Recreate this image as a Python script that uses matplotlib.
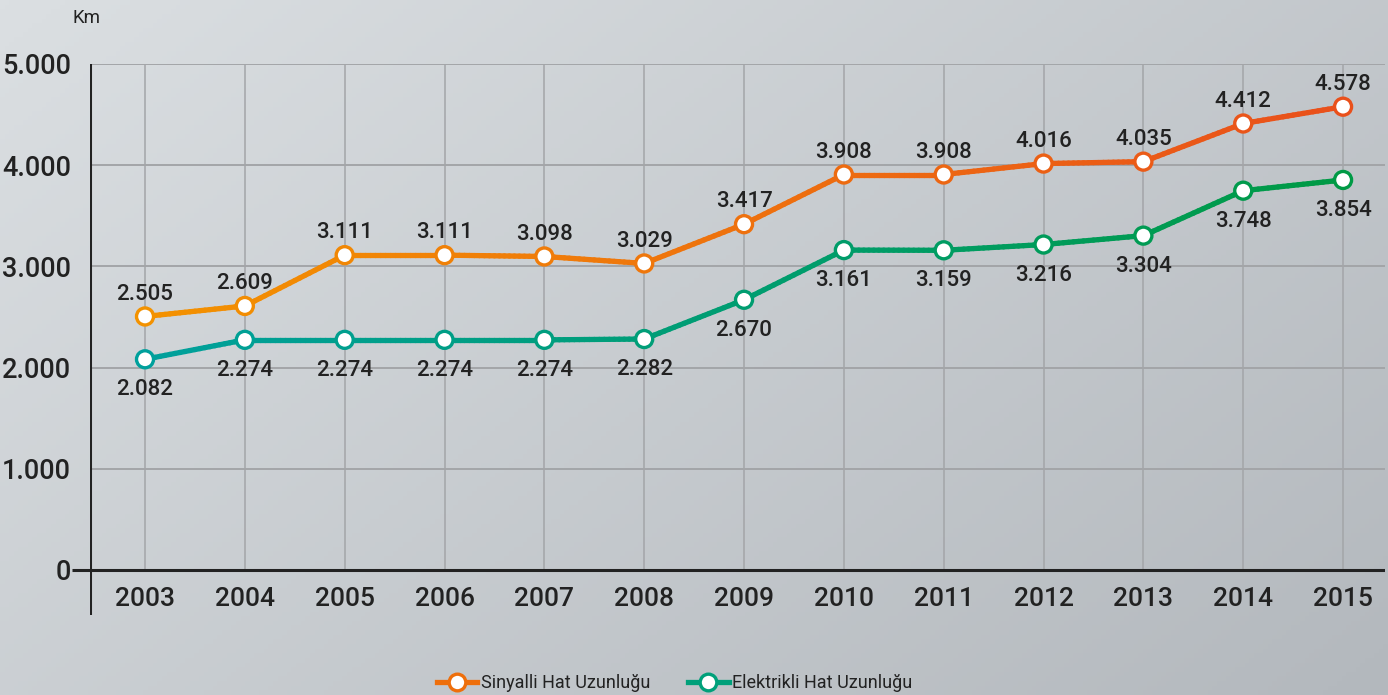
import numpy as np
import matplotlib
matplotlib.use("Agg")
import matplotlib.pyplot as plt
from matplotlib.collections import LineCollection
from matplotlib.colors import LinearSegmentedColormap
from matplotlib.lines import Line2D

# --- data --------------------------------------------------------------------
years = [2003, 2004, 2005, 2006, 2007, 2008, 2009, 2010, 2011, 2012, 2013, 2014, 2015]
sinyalli = [2505, 2609, 3111, 3111, 3098, 3029, 3417, 3908, 3908, 4016, 4035, 4412, 4578]
elektrikli = [2082, 2274, 2274, 2274, 2274, 2282, 2670, 3161, 3159, 3216, 3304, 3748, 3854]
yticks = [0, 1000, 2000, 3000, 4000, 5000]
series_names = ["Sinyalli Hat Uzunluğu", "Elektrikli Hat Uzunluğu"]
# -----------------------------------------------------------------------------

plt.rcParams["font.family"] = ["Roboto", "DejaVu Sans"]
plt.rcParams["font.weight"] = "medium"
TXT = "#222222"
GRID = "#a3a5a8"

fig = plt.figure(figsize=(13.88, 6.95), dpi=100)

# gradient background
bg = fig.add_axes([0, 0, 1, 1], zorder=-10)
gx, gy = np.meshgrid(np.linspace(0, 1, 300), np.linspace(0, 1, 150))
t = 0.6 * gx + 0.4 * gy
bg_cmap = LinearSegmentedColormap.from_list("bg", ["#dbdfe2", "#b3b8bd"])
bg.imshow(t, cmap=bg_cmap, aspect="auto", extent=[0, 1, 1, 0])
bg.set_axis_off()

ax = fig.add_axes([90 / 1388, 1 - 615 / 695, (1385 - 90) / 1388, (615 - 64) / 695])
ax.patch.set_alpha(0)
ax.set_xlim(2002.449, 2015.42)
ax.set_ylim(-445, 5000)

# grid
ax.hlines(yticks[1:], 2002.449, 2015.42, color=GRID, lw=1.4, zorder=1)
ax.vlines(years, 0, 5000, color=GRID, lw=1.1, zorder=1)
ax.axhline(0, color=TXT, lw=2.2, zorder=2)
ax.axvline(2002.449, color=TXT, lw=2.2, zorder=2)
for s in ax.spines.values():
    s.set_visible(False)

ax.set_yticks(yticks)
ax.set_yticklabels([f"{v:,}".replace(",", ".") for v in yticks])
ax.set_xticks(years)
ax.set_xticklabels([str(y) for y in years])
ax.tick_params(axis="y", length=13, width=2.2, color=TXT, pad=0.5, labelsize=19.5, labelcolor=TXT)
ax.tick_params(axis="x", length=0, pad=-20.5, labelsize=19, labelcolor=TXT)
for tk, v in zip(ax.yaxis.get_major_ticks(), yticks):
    if v != 0:
        tk.tick1line.set_visible(False)

fig.text(73 / 1388, 1 - 18 / 695, "Km", fontsize=13.5, color=TXT, va="center", ha="left",
         fontweight="normal")


def gradient_line(x, y, c0, c1):
    xs, ys = [], []
    for i in range(len(x) - 1):
        n = 20
        xs.extend(np.linspace(x[i], x[i + 1], n, endpoint=False))
        ys.extend(np.linspace(y[i], y[i + 1], n, endpoint=False))
    xs.append(x[-1]); ys.append(y[-1])
    pts = np.column_stack([xs, ys]).reshape(-1, 1, 2)
    segs = np.concatenate([pts[:-1], pts[1:]], axis=1)
    cmap = LinearSegmentedColormap.from_list("g", [c0, c1])
    lc = LineCollection(segs, cmap=cmap, linewidths=3.8, capstyle="round", zorder=3)
    lc.set_array(np.linspace(0, 1, len(segs)))
    ax.add_collection(lc)
    cols = cmap(np.linspace(0, 1, len(x)))
    ax.scatter(x, y, s=150, facecolor="white", edgecolor=cols, linewidths=2.4, zorder=4)


gradient_line(years, sinyalli, "#f39200", "#e9501b")
gradient_line(years, elektrikli, "#00a09c", "#009a45")

for x, v in zip(years, sinyalli):
    ax.annotate(f"{v:,}".replace(",", "."), (x, v), xytext=(0, 16), textcoords="offset points",
                ha="center", va="center", fontsize=16, color=TXT)
for x, v in zip(years, elektrikli):
    ax.annotate(f"{v:,}".replace(",", "."), (x, v), xytext=(0, -22), textcoords="offset points",
                ha="center", va="center", fontsize=16, color=TXT)

handles = [
    Line2D([], [], color="#ee6f0c", lw=3.8, marker="o", ms=12, mfc="white", mec="#ee6f0c", mew=2.4),
    Line2D([], [], color="#00a07a", lw=3.8, marker="o", ms=12, mfc="white", mec="#00a07a", mew=2.4),
]
fig.legend(handles, series_names, loc="lower center", bbox_to_anchor=(0.486, -0.019), ncol=2,
           frameon=False, prop={"size": 13, "weight": "normal"}, handlelength=2.25,
           handletextpad=0.2, columnspacing=2.1, labelcolor=TXT)

fig.savefig("out.png", dpi=100)
